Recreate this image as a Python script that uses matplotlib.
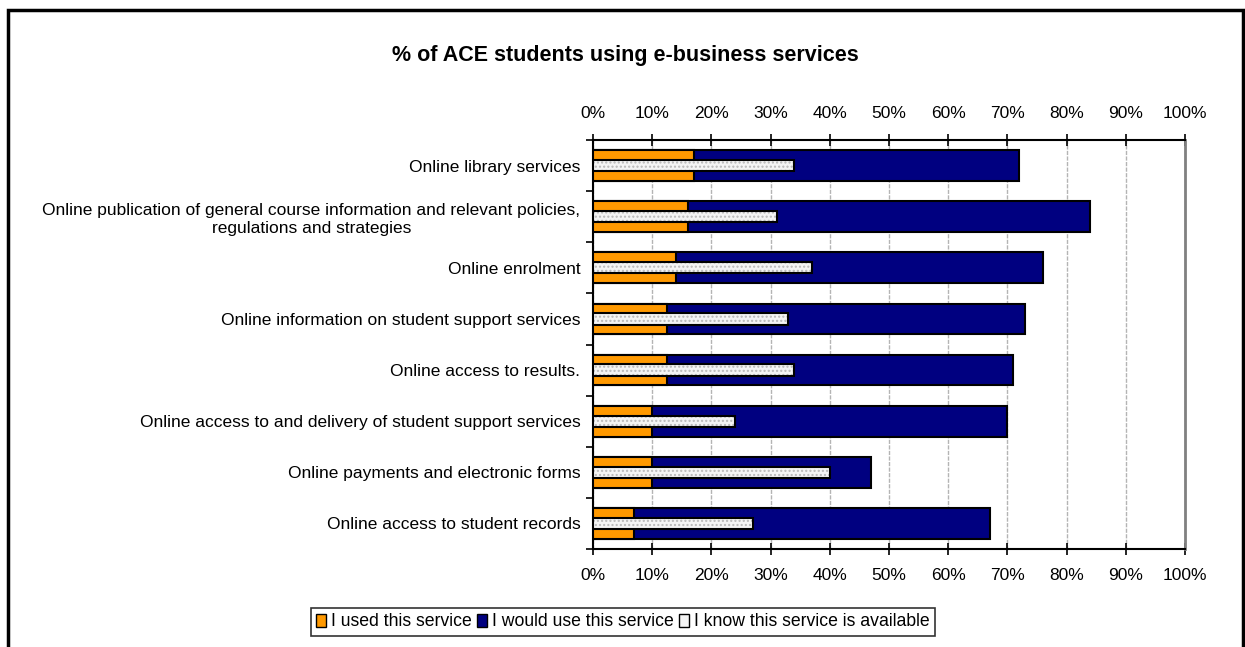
import matplotlib.pyplot as plt
from matplotlib.patches import Rectangle, Patch
import numpy as np

plt.rcParams['font.family'] = ['Liberation Sans', 'DejaVu Sans']

categories = [
    "Online library services",
    "Online publication of general course information and relevant policies,\nregulations and strategies",
    "Online enrolment",
    "Online information on student support services",
    "Online access to results.",
    "Online access to and delivery of student support services",
    "Online payments and electronic forms",
    "Online access to student records",
]
used = [17, 16, 14, 12.5, 12.5, 10, 10, 7]
would_use = [72, 84, 76, 73, 71, 70, 47, 67]
know = [34, 31, 37, 33, 34, 24, 40, 27]

ORANGE = "#FF9900"
NAVY = "#000080"
DOTS = "#b8b8b8"

fig = plt.figure(figsize=(12.45, 6.47), dpi=100)
ax = fig.add_axes([593 / 1245, 1 - 549 / 647, 592 / 1245, 409 / 647])

y = np.arange(len(categories))
ax.barh(y, would_use, height=0.6, color=NAVY, edgecolor="black", linewidth=1.5, zorder=3)
ax.barh(y, used, height=0.6, color=ORANGE, edgecolor="black", linewidth=1.5, zorder=4)
# dotted fill first, then a plain black outline on top
ax.barh(y, know, height=0.22, color="#f4f4f4", edgecolor=DOTS, hatch="....",
        linewidth=0, zorder=5)
ax.barh(y, know, height=0.22, color="none", edgecolor="black", linewidth=1.5, zorder=6)

ax.set_xlim(0, 100)
ax.set_ylim(len(categories) - 0.5, -0.5)
ax.set_xticks(np.arange(0, 101, 10))
ax.set_xticklabels([f"{v}%" for v in range(0, 101, 10)])
ax.tick_params(axis="x", top=True, labeltop=True, bottom=True, labelbottom=True,
               direction="inout", length=9, width=1.2, labelsize=12.5, pad=9)
ax.xaxis.grid(True, color="#b4b4b4", linestyle=(0, (3, 1)), linewidth=1)
ax.set_axisbelow(True)

# category labels on minor ticks, boundary tick marks on major ticks
ax.set_yticks(np.arange(-0.5, len(categories), 1))
ax.set_yticklabels([])
ax.set_yticks(y, minor=True)
ax.set_yticklabels(categories, minor=True, fontsize=12.5, multialignment="center")
ax.tick_params(axis="y", which="major", direction="out", length=5, width=1.2)
ax.tick_params(axis="y", which="minor", length=0, pad=9)

for side in ["left", "top", "bottom"]:
    ax.spines[side].set_linewidth(1.5)
ax.spines["right"].set_color("#808080")
ax.spines["right"].set_linewidth(2)

fig.text(0.502, 1 - 56 / 647, "% of ACE students using e-business services",
         ha="center", va="center", fontsize=15.5, fontweight="bold")

handles = [
    Patch(facecolor=ORANGE, edgecolor="black", linewidth=1),
    Patch(facecolor=NAVY, edgecolor="black", linewidth=1),
    Patch(facecolor="#f4f4f4", edgecolor="black", linewidth=1),
]
leg = fig.legend(handles, ["I used this service", "I would use this service",
                           "I know this service is available"],
                 loc="center", bbox_to_anchor=(623 / 1245, 1 - 622 / 647), ncol=3,
                 fontsize=12.7, frameon=True, fancybox=False, handlelength=0.55,
                 handleheight=0.75, handletextpad=0.3, columnspacing=0.3,
                 borderpad=0.3, borderaxespad=0)
leg.get_frame().set_edgecolor("black")
leg.get_frame().set_linewidth(1.2)

# outer chart border
fig.patches.append(Rectangle((8 / 1245, -0.1), 1235 / 1245, 1.1 - 10 / 647,
                             transform=fig.transFigure, fill=False,
                             edgecolor="black", linewidth=2.5))

fig.savefig("out.png", dpi=100)
